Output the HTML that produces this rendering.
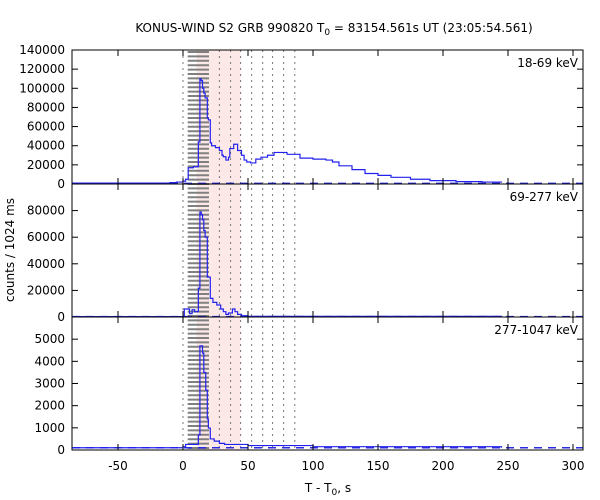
<!DOCTYPE html>
<html><head><meta charset="utf-8"><style>
body{margin:0;background:#fff}
svg{display:block;font-family:"DejaVu Sans","Liberation Sans",sans-serif;font-size:12px}
</style></head><body>
<svg id="c" width="600" height="500"></svg>
<script>
const t1=[-85,-10,-5,0,2,4,8,10.5,11.8,13,14,15,16,17,18.7,19.5,21,22,25,28,30,31,33,35,36,39,42,45,47,49,52,56,60,65,70,80,90,100,110,115,120,130,140,150,160,175,190,210,230,245];
const c1=[1000,1500,2000,3000,5000,17000,18000,18000,44000,110000,108000,100000,95000,90000,69000,67000,43000,40000,38000,35000,30000,28500,25000,28000,37000,41500,35000,30000,25000,23000,22000,26000,28000,30000,33000,31000,27000,26000,25000,23000,19000,15000,11000,9000,7000,5000,3500,2500,2000,1500];
const t2=[-85,1,5,7,9,11.8,13,14,15,16,17,18.7,19.5,21,23,26,29,31,33,35,38,40,42,45,50,245];
const c2=[300,6000,2500,5500,4000,21600,79000,77000,73000,65000,60000,30000,30000,14000,11000,9000,6000,4000,2000,3000,6000,4000,2000,1000,500,300];
const t3=[-85,0,2,8,11.8,13,14,15,16,17.5,18.7,19.5,21,24,28,32,40,50,100,245];
const c3=[100,150,250,250,675,4700,4700,4370,3500,2700,1400,990,500,400,300,250,250,200,150,100];
const xTicks=[-50,0,50,100,150,200,250,300];
const dotLines=[0,28,36.6,44.3,52.8,61.3,68.9,77.4,86];
const panels=[
 {top:50,bot:184,max:140000,ticks:[0,20000,40000,60000,80000,100000,120000,140000],t:t1,c:c1,bg:700,label:"18-69 keV",name:"panel-18-69"},
 {top:184,bot:317,max:100000,ticks:[0,20000,40000,60000,80000],t:t2,c:c2,bg:300,label:"69-277 keV",name:"panel-69-277"},
 {top:317,bot:450,max:6000,ticks:[0,1000,2000,3000,4000,5000],t:t3,c:c3,bg:100,label:"277-1047 keV",name:"panel-277-1047"}];
const L=72,R=583,NS="http://www.w3.org/2000/svg";
const X=t=>183+t*1.3;
const svg=document.getElementById('c');
function mk(tag,at,par){const e=document.createElementNS(NS,tag);for(const k in at)e.setAttribute(k,at[k]);(par||svg).appendChild(e);return e;}
const sh=mk('g',{});


mk('rect',{x:X(10.5),y:50,width:X(44.3)-X(10.5),height:400,fill:'#fde8e8'},sh);
for(let y=52;y<450;y+=4.4){mk('line',{x1:X(3.6),x2:X(20),y1:y,y2:y,stroke:'#808080','stroke-width':2},sh);}
dotLines.forEach(d=>{const l=mk('line',{x1:X(d),x2:X(d),y1:50,y2:450,stroke:'#777','stroke-dasharray':'2,4'});

});
panels.forEach(p=>{
 const g=mk('g',{});
 
 
 const Y=v=>p.bot-v/p.max*(p.bot-p.top);
 mk('line',{x1:L,x2:R,y1:Y(p.bg),y2:Y(p.bg),stroke:'#2a2ae0','stroke-width':1.5,'stroke-dasharray':'8,6'},g);
 let d='M'+X(p.t[0])+','+Y(p.c[0]);
 for(let i=1;i<p.t.length;i++){d+='H'+X(p.t[i])+'V'+Y(p.c[i]);}
 const ln=mk('path',{d:d,fill:'none',stroke:'#2222ee','stroke-width':1.2},g);
 
 
 mk('rect',{x:L,y:p.top,width:R-L,height:p.bot-p.top,fill:'none',stroke:'#000'},g);
 p.ticks.forEach(v=>{const y=Y(v);
  mk('line',{x1:L,x2:L+6,y1:y,y2:y,stroke:'#000'},g);mk('line',{x1:R-6,x2:R,y1:y,y2:y,stroke:'#000'},g);
  const tx=mk('text',{x:L-7,y:y+4,'text-anchor':'end'},g);tx.textContent=v;
  
  });
 xTicks.forEach(v=>{mk('line',{x1:X(v),x2:X(v),y1:p.bot,y2:p.bot-6,stroke:'#000'},g);mk('line',{x1:X(v),x2:X(v),y1:p.top,y2:p.top+6,stroke:'#000'},g);});
 const lb=mk('text',{x:578,y:p.top+17,'text-anchor':'end'},g);lb.textContent=p.label;
 
 
});
xTicks.forEach(v=>{const tx=mk('text',{x:X(v),y:470,'text-anchor':'middle'});tx.textContent=v;
 
 });
</script>
<svg style="position:absolute;left:0;top:0;font-family:'DejaVu Sans','Liberation Sans',sans-serif" width="600" height="500">
<text x="334" y="32" text-anchor="middle" font-size="12">KONUS-WIND S2 GRB 990820 T<tspan font-size="9" dy="3">0</tspan><tspan dy="-3"> = 83154.561s UT (23:05:54.561)</tspan></text>
<text x="328" y="492" text-anchor="middle" font-size="12">T - T<tspan font-size="9" dy="3">0</tspan><tspan dy="-3">, s</tspan></text>
<text transform="translate(14,250) rotate(-90)" text-anchor="middle" font-size="12">counts / 1024 ms</text>
</svg>
</body></html>
